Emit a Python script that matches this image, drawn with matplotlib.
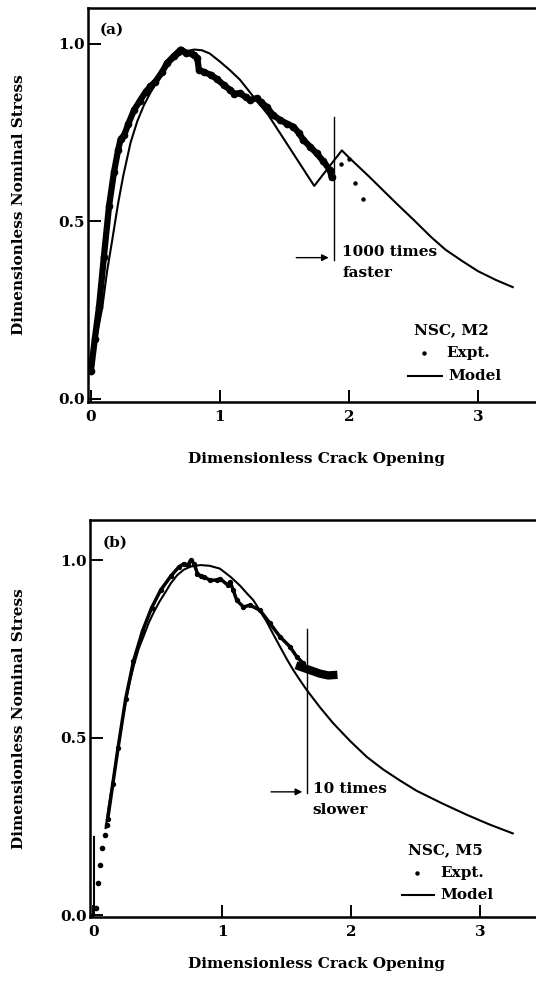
import matplotlib
matplotlib.use("Agg")
import matplotlib.pyplot as plt
import numpy as np

plt.rcParams['font.family'] = ['DejaVu Serif']
plt.rcParams['font.weight'] = 'bold'

# ---- panel (a): NSC, M2 ----
model_a_x = [0.0, 0.04, 0.088, 0.125, 0.165, 0.21, 0.25, 0.307, 0.36, 0.41, 0.46, 0.514,
             0.57, 0.62, 0.68, 0.74, 0.80, 0.86, 0.92, 1.0, 1.08, 1.155, 1.258, 1.374,
             1.731, 1.945, 2.0, 2.16, 2.37, 2.5, 2.64, 2.75, 2.88, 3.0, 3.14, 3.27]
model_a_y = [0.07, 0.17, 0.258, 0.36, 0.448, 0.55, 0.628, 0.722, 0.783, 0.827, 0.862, 0.894,
             0.925, 0.948, 0.967, 0.979, 0.984, 0.982, 0.973, 0.95, 0.925, 0.899, 0.852,
             0.80, 0.60, 0.70, 0.68, 0.625, 0.55, 0.505, 0.455, 0.42, 0.388, 0.36, 0.335,
             0.315]

exp_a_x = [0.0, 0.03, 0.062, 0.10, 0.14, 0.178, 0.21, 0.23, 0.256, 0.29, 0.333, 0.38,
           0.424, 0.46, 0.50, 0.55, 0.59, 0.64, 0.695, 0.74, 0.773, 0.80, 0.824, 0.837,
           0.88, 0.928, 0.98, 1.03, 1.08, 1.11, 1.155, 1.20, 1.233, 1.284, 1.32, 1.362,
           1.41, 1.465, 1.52, 1.568, 1.61, 1.646, 1.70, 1.749, 1.80, 1.852, 1.865]
exp_a_y = [0.08, 0.17, 0.258, 0.40, 0.543, 0.638, 0.70, 0.732, 0.742, 0.775, 0.813, 0.84,
           0.865, 0.88, 0.894, 0.92, 0.946, 0.965, 0.984, 0.975, 0.974, 0.968, 0.96, 0.927,
           0.92, 0.913, 0.90, 0.884, 0.87, 0.86, 0.861, 0.85, 0.842, 0.847, 0.835, 0.823,
           0.80, 0.786, 0.775, 0.767, 0.75, 0.73, 0.71, 0.692, 0.67, 0.645, 0.626]
exp_a_fast_x = [1.94, 2.0, 2.05, 2.11]
exp_a_fast_y = [0.663, 0.675, 0.609, 0.562]

# ---- panel (b): NSC, M5 ----
model_b_x = [0.004, 0.004, np.nan, 0.094, 0.12, 0.146, 0.185, 0.215, 0.25, 0.28, 0.314,
             0.35, 0.392, 0.43, 0.47, 0.51, 0.56, 0.60, 0.65, 0.70, 0.754, 0.83, 0.90,
             0.98, 1.065, 1.136, 1.19, 1.239, 1.29, 1.343, 1.395, 1.446, 1.497, 1.549,
             1.60, 1.653, 1.756, 1.859, 1.99, 2.12, 2.246, 2.38, 2.505, 2.7, 2.89, 3.07,
             3.25]
model_b_y = [0.0, 0.22, np.nan, 0.245, 0.31, 0.367, 0.455, 0.53, 0.60, 0.655, 0.705,
             0.75, 0.789, 0.825, 0.855, 0.882, 0.911, 0.935, 0.958, 0.973, 0.982, 0.986,
             0.984, 0.976, 0.952, 0.928, 0.906, 0.887, 0.858, 0.826, 0.79, 0.756, 0.722,
             0.69, 0.662, 0.634, 0.585, 0.54, 0.49, 0.445, 0.41, 0.378, 0.35, 0.315, 0.283,
             0.255, 0.23]

exp_b_low_x = [0.017, 0.035, 0.05, 0.069, 0.087, 0.102]
exp_b_low_y = [0.02, 0.09, 0.142, 0.189, 0.226, 0.254]
exp_b_x = [0.11, 0.15, 0.19, 0.25, 0.31, 0.38, 0.45, 0.52, 0.60, 0.66, 0.70, 0.73, 0.754,
           0.78, 0.806, 0.83, 0.858, 0.903, 0.961, 0.98, 1.04, 1.058, 1.084, 1.11, 1.162,
           1.213, 1.29, 1.368, 1.446, 1.523, 1.575, 1.627]
exp_b_y = [0.27, 0.37, 0.47, 0.61, 0.715, 0.80, 0.865, 0.915, 0.955, 0.98, 0.99, 0.985,
           1.0, 0.99, 0.962, 0.955, 0.953, 0.943, 0.944, 0.948, 0.93, 0.939, 0.915, 0.887,
           0.868, 0.873, 0.859, 0.822, 0.784, 0.756, 0.728, 0.709]
exp_b_tail_x = [1.60, 1.678, 1.756, 1.82, 1.859]
exp_b_tail_y = [0.70, 0.69, 0.68, 0.675, 0.676]

x_ticks = [0, 1, 2, 3]
y_ticks = [0.0, 0.5, 1.0]
y_ticklabels = ['0.0', '0.5', '1.0']

fs = 11
fig = plt.figure(figsize=(5.36, 9.84), dpi=100)
W, H = 536.0, 984.0


def make_axes(left, top, bottom, xlim, ylim):
    ax = fig.add_axes([left / W, 1 - bottom / H, (545 - left) / W, (bottom - top) / H])
    ax.set_xlim(*xlim)
    ax.set_ylim(*ylim)
    for s in ax.spines.values():
        s.set_linewidth(1.8)
    ax.set_xticks(x_ticks)
    ax.set_yticks(y_ticks)
    ax.set_yticklabels(y_ticklabels)
    ax.tick_params(direction='in', length=9, width=1.4, labelsize=fs, pad=2.5)
    ax.tick_params(axis='x', pad=6)
    ax.set_xlabel('Dimensionless Crack Opening', fontsize=fs, fontweight='bold')
    ax.set_ylabel('Dimensionless Nominal Stress', fontsize=fs, fontweight='bold')
    return ax


# panel (a)
ax1 = make_axes(88, 8, 402, (-0.023, 3.52), (-0.0085, 1.101))
ax1.plot(model_a_x, model_a_y, color='black', lw=1.5)
ax1.plot(exp_a_x, exp_a_y, color='black', lw=4.5, marker='o', ms=4.5)
ax1.plot(exp_a_fast_x, exp_a_fast_y, 'o', color='black', ms=2.2)
ax1.plot([1.884, 1.884], [0.39, 0.795], color='black', lw=1.0)
ax1.annotate('', xy=(1.865, 0.398), xytext=(1.57, 0.398),
             arrowprops=dict(arrowstyle='-|>', color='black', lw=1.0, mutation_scale=10))
ax1.text(1.95, 0.414, '1000 times', fontsize=fs, va='center', ha='left')
ax1.text(1.95, 0.355, 'faster', fontsize=fs, va='center', ha='left')
ax1.text(0.07, 1.04, '(a)', fontsize=fs, va='center', ha='left')
ax1.text(2.796, 0.194, 'NSC, M2', fontsize=fs, va='center', ha='center')
ax1.plot([2.58], [0.129], 'o', color='black', ms=2.2)
ax1.text(2.757, 0.129, 'Expt.', fontsize=fs, va='center', ha='left')
ax1.plot([2.46, 2.72], [0.065, 0.065], color='black', lw=1.5)
ax1.text(2.77, 0.065, 'Model', fontsize=fs, va='center', ha='left')
ax1.xaxis.set_label_coords((317 - 88) / (545 - 88), -(452 - 402) / (402 - 8))
ax1.yaxis.set_label_coords(-(88 - 26) / (545 - 88), 0.5)

# panel (b)
ax2 = make_axes(90, 520, 917, (-0.027, 3.5), (-0.0056, 1.113))
ax2.plot(model_b_x, model_b_y, color='black', lw=1.5)
ax2.plot(exp_b_low_x, exp_b_low_y, 'o', color='black', ms=3)
ax2.plot(exp_b_x, exp_b_y, color='black', lw=2.5, marker='o', ms=2.8)
ax2.plot(exp_b_tail_x, exp_b_tail_y, color='black', lw=6)
ax2.plot([1.657, 1.657], [0.345, 0.805], color='black', lw=1.0)
ax2.annotate('', xy=(1.64, 0.347), xytext=(1.355, 0.347),
             arrowprops=dict(arrowstyle='-|>', color='black', lw=1.0, mutation_scale=10))
ax2.text(1.70, 0.355, '10 times', fontsize=fs, va='center', ha='left')
ax2.text(1.70, 0.295, 'slower', fontsize=fs, va='center', ha='left')
ax2.text(0.07, 1.048, '(b)', fontsize=fs, va='center', ha='left')
ax2.text(2.73, 0.183, 'NSC, M5', fontsize=fs, va='center', ha='center')
ax2.plot([2.51], [0.119], 'o', color='black', ms=2.2)
ax2.text(2.69, 0.119, 'Expt.', fontsize=fs, va='center', ha='left')
ax2.plot([2.39, 2.64], [0.056, 0.056], color='black', lw=1.5)
ax2.text(2.69, 0.056, 'Model', fontsize=fs, va='center', ha='left')
ax2.xaxis.set_label_coords((317 - 90) / (545 - 90), -(957 - 917) / (917 - 520))
ax2.yaxis.set_label_coords(-(90 - 26) / (545 - 90), 0.5)

fig.savefig('out.png', dpi=100)
